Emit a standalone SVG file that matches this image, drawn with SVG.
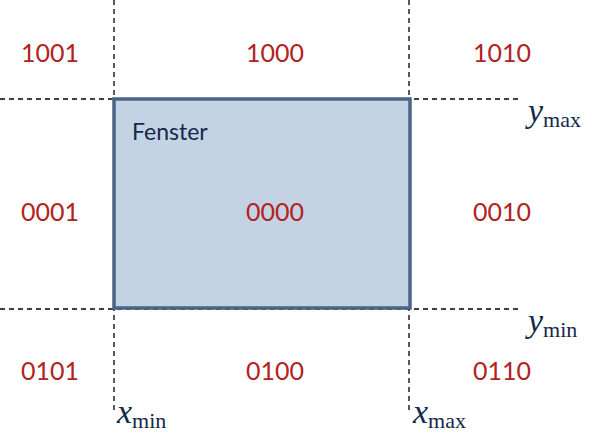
<svg xmlns="http://www.w3.org/2000/svg" width="614" height="440" viewBox="0 0 614 440">
<style>
.d{stroke:#000;stroke-width:1.3;stroke-dasharray:5,4;fill:none}
.c{font-family:"Gill Sans","Lato","DejaVu Sans",sans-serif;font-size:25px;fill:#b22222;text-anchor:middle}
.m{font-family:"Liberation Serif",serif;fill:#13294b}
</style>
<g id="connectors">
<line class="d" x1="0" y1="99" x2="522" y2="99"/>
<line class="d" x1="0" y1="309" x2="522" y2="309"/>
<line class="d" x1="114" y1="0" x2="114" y2="412"/>
<line class="d" x1="409" y1="0" x2="409" y2="412"/>
</g>
<g id="fenster">
<rect x="114" y="99" width="296" height="209" fill="#c3d3e4" stroke="#4b6584" stroke-width="3.5"/>
<text x="132" y="140" font-family="Lato,sans-serif" font-size="23" fill="#13294b">Fenster</text>
</g>
<g id="codes">
<text class="c" x="50" y="62">1001</text>
<text class="c" x="275" y="62">1000</text>
<text class="c" x="502" y="62">1010</text>
<text class="c" x="50" y="221">0001</text>
<text class="c" x="275" y="221">0000</text>
<text class="c" x="502" y="221">0010</text>
<text class="c" x="50" y="380">0101</text>
<text class="c" x="275" y="380">0100</text>
<text class="c" x="502" y="380">0110</text>
</g>
<g id="labels">
<text class="m" x="528" y="122" font-size="34" font-style="italic">y<tspan font-size="22" font-style="normal" dy="5">max</tspan></text>
<text class="m" x="528" y="332" font-size="34" font-style="italic">y<tspan font-size="22" font-style="normal" dy="5">min</tspan></text>
<text class="m" x="117" y="423" font-size="34" font-style="italic">x<tspan font-size="22" font-style="normal" dy="5">min</tspan></text>
<text class="m" x="413" y="423" font-size="34" font-style="italic">x<tspan font-size="22" font-style="normal" dy="5">max</tspan></text>
</g>
</svg>
